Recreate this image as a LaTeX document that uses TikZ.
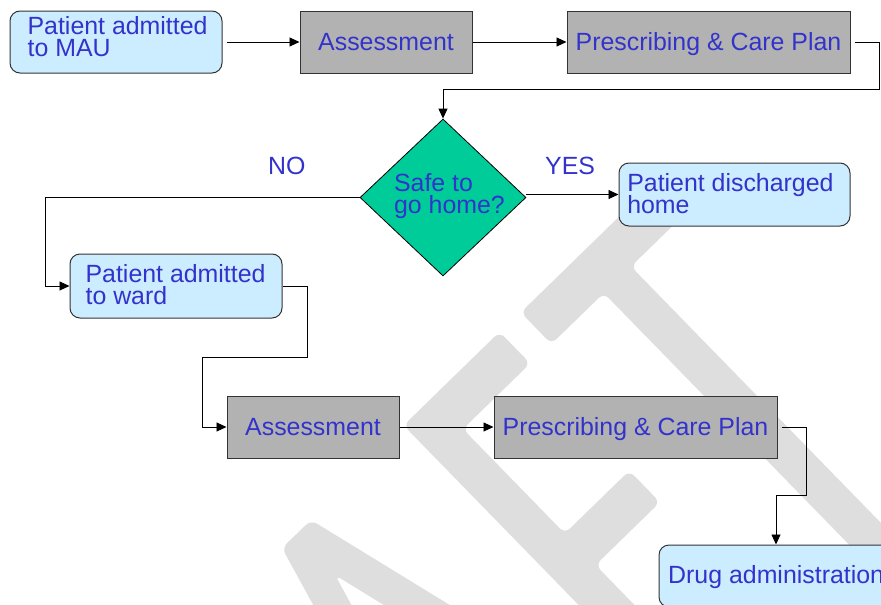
\documentclass[tikz,border=0pt]{standalone}
\usepackage{fontspec}
\setmainfont{Liberation Sans}
\usetikzlibrary{arrows.meta,shapes.geometric}
\definecolor{inkblue}{HTML}{3333CC}
\definecolor{paleblue}{HTML}{CCECFF}
\definecolor{midgray}{HTML}{B2B2B2}
\definecolor{seagreen}{HTML}{00CC99}
\definecolor{stampgray}{HTML}{DEDEDE}
\definecolor{rim}{HTML}{333333}
% two lines set at a fixed baseline distance, baseline on the first line
\newcommand\stacked[2]{\vtop{\lineskiplimit=-50pt\hbox{#1}\hbox{#2}}}

\begin{document}
\begin{tikzpicture}[x=1pt,y=-1pt,
  font=\fontsize{24.9}{22.6}\selectfont,
  softbox/.style={draw=rim,line width=1pt,fill=paleblue,rounded corners=10pt,inner sep=0pt},
  hardbox/.style={draw=rim,line width=1pt,fill=midgray,inner sep=0pt,text=inkblue,
                  text height=17.8pt,text depth=0pt},
  words/.style={text=inkblue,inner sep=0pt,anchor=base west},
  flow/.style={draw=black,line width=0.9pt,-{Triangle[length=10pt,width=9pt]}},
  stamp/.style={fill=stampgray,rounded corners=7pt},
  letterframe/.style={x={(0.716pt,0.698pt)},y={(-0.698pt,0.716pt)}}
]
\useasboundingbox (0,0) rectangle (881,605);

% background stamp lettering
\begin{scope}
  \clip (0,0) rectangle (881,605);
  % A
  \fill[stamp] (332.5,640) -- (282,548) -- (311,520) -- (520,648) -- (500,676.5)
     -- (335,575) -- (381.8,660) -- cycle;
  % F
  \begin{scope}[shift={(405,424)},letterframe]
    \fill[stamp] (-2,0) -- (132,0) -- (132,-44) -- (38,-44) -- (38,-190) -- (128,-190)
       -- (128,-234) -- (38,-234) -- (38,-420) -- (-2,-420) -- cycle;
  \end{scope}
  % T
  \begin{scope}[shift={(602,264)},letterframe]
    \fill[stamp] (-92,22) -- (92,22) -- (92,-22) -- (19,-22) -- (19,-440)
       -- (-19,-440) -- (-19,-22) -- (-92,-22) -- cycle;
  \end{scope}
\end{scope}

% flow chart boxes
\node[softbox,minimum width=212pt,minimum height=62pt] (mau) at (116,42) {};
\node[words] (maut) at (27.4,34.3) {\stacked{Patient admitted}{to MAU}};
\node[hardbox,minimum width=172pt,minimum height=62pt] (as1) at (386,42) {Assessment};
\node[hardbox,minimum width=283pt,minimum height=62pt] (pc1) at (708.5,42) {Prescribing \& Care Plan};

\node[diamond,draw=black,line width=0.8pt,fill=seagreen,minimum width=166pt,
      minimum height=157pt,inner sep=0pt] (safe) at (443,197.5) {};
\node[words] (safet) at (393.9,191) {\stacked{Safe to}{go home?}};

\node[softbox,minimum width=231pt,minimum height=63pt] (home) at (734.5,194.5) {};
\node[words] (homet) at (627.1,191.3) {\stacked{Patient discharged}{home}};

\node[softbox,minimum width=212pt,minimum height=64pt] (ward) at (176,286) {};
\node[words] (wardt) at (85.4,282.3) {\stacked{Patient admitted}{to ward}};

\node[hardbox,minimum width=172pt,minimum height=62pt] (as2) at (313,427) {Assessment};
\node[hardbox,minimum width=283pt,minimum height=62pt] (pc2) at (635.5,427) {Prescribing \& Care Plan};

\node[softbox,minimum width=234pt,minimum height=62pt] (drug) at (776,576) {};
\node[words] (drugt) at (668,583.3) {Drug administration};

\node[words] (no) at (268,174.3) {NO};
\node[words] (yes) at (545,174.3) {YES};

% connectors
\coordinate (k1) at (879,89);
\coordinate (k2) at (45,286);
\coordinate (k3) at (307,357);
\coordinate (k4) at (202,357);
\coordinate (k5) at (806,495);

\draw[flow,shorten <=4pt] (mau.east) -- (as1.west);
\draw[flow] (as1.east) -- (pc1.west);
\draw[flow,shorten <=4pt] (pc1.east) -| (k1) -| (safe.north);
\draw[flow] (safe.east |- home.west) -- (home.west);
\draw[flow] (safe.west) -| (k2) -- (ward.west);
\draw[flow] (ward.east) -| (k3) -- (k4) |- (as2.west);
\draw[flow] (as2.east) -- (pc2.west);
\draw[flow,shorten <=4pt] (pc2.east) -| (k5) -| (drug.north);
\end{tikzpicture}
\end{document}
